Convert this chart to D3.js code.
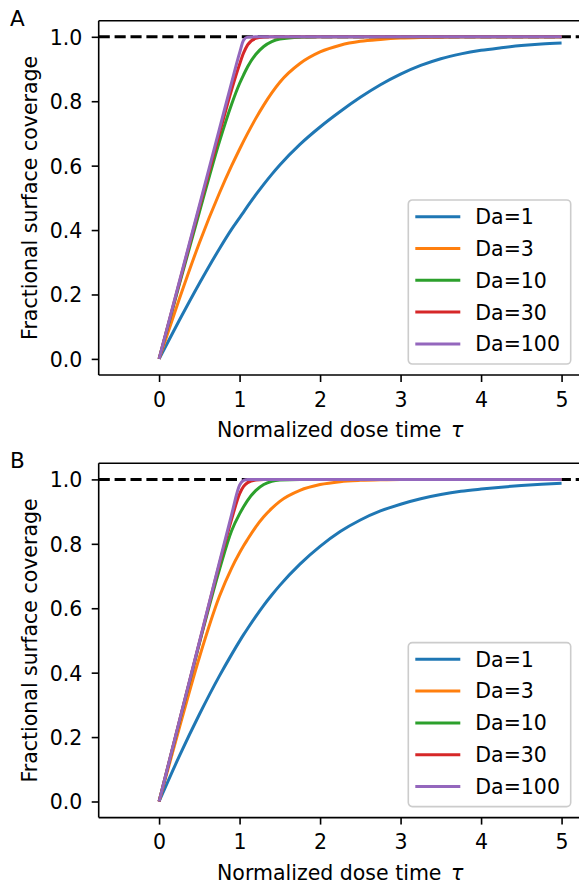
<!DOCTYPE html>
<html>
<head>
<meta charset="utf-8">
<script src="https://cdn.jsdelivr.net/npm/d3@7"></script>
<style>
  body { margin: 0; background: #fff; }
  text { font-family: "DejaVu Sans", sans-serif; fill: #000; }
</style>
</head>
<body>
<svg id="chart" width="579" height="884"></svg>
<script>
// dose time grid shared by all curves
const tau = [0, 0.25, 0.5, 0.75, 0.9, 1.0, 1.05, 1.1, 1.2, 1.3, 1.4, 1.5, 1.75, 2.0,
  2.25, 2.5, 2.75, 3.0, 3.25, 3.5, 3.75, 4.0, 4.25, 4.5, 4.75, 5.0];

const daLabels = ["Da=1", "Da=3", "Da=10", "Da=30", "Da=100"];
const colors = ["#1f77b4", "#ff7f0e", "#2ca02c", "#d62728", "#9467bd"];

// panel A
const a_da1 = [0, 0.119, 0.234, 0.342, 0.402, 0.438, 0.456, 0.474, 0.509, 0.542, 0.573, 0.602, 0.666, 0.72,
  0.768, 0.812, 0.851, 0.884, 0.911, 0.932, 0.947, 0.958, 0.966, 0.973, 0.978, 0.981];
const a_da3 = [0, 0.185, 0.36, 0.515, 0.599, 0.651, 0.676, 0.70, 0.746, 0.788, 0.826, 0.859, 0.917, 0.953,
  0.974, 0.986, 0.992, 0.996, 0.998, 0.999, 1, 1, 1, 1, 1, 1];
const a_da10 = [0, 0.23, 0.455, 0.675, 0.79, 0.855, 0.882, 0.907, 0.945, 0.97, 0.985, 0.993, 0.999, 1,
  1, 1, 1, 1, 1, 1, 1, 1, 1, 1, 1, 1];
const a_da30 = [0, 0.235, 0.47, 0.70, 0.835, 0.915, 0.95, 0.975, 0.995, 0.999, 1, 1, 1, 1,
  1, 1, 1, 1, 1, 1, 1, 1, 1, 1, 1, 1];
const a_da100 = [0, 0.238, 0.476, 0.714, 0.857, 0.95, 0.99, 0.999, 1, 1, 1, 1, 1, 1,
  1, 1, 1, 1, 1, 1, 1, 1, 1, 1, 1, 1];

// panel B
const b_da1 = [0, 0.14, 0.27, 0.39, 0.456, 0.498, 0.518, 0.537, 0.574, 0.609, 0.641, 0.671, 0.737, 0.792,
  0.838, 0.874, 0.902, 0.923, 0.94, 0.953, 0.963, 0.97, 0.976, 0.981, 0.985, 0.988];
const b_da3 = [0, 0.227, 0.447, 0.637, 0.724, 0.772, 0.794, 0.814, 0.852, 0.884, 0.91, 0.932, 0.966, 0.984,
  0.993, 0.997, 0.999, 1, 1, 1, 1, 1, 1, 1, 1, 1];
const b_da10 = [0, 0.245, 0.49, 0.72, 0.84, 0.893, 0.915, 0.935, 0.965, 0.984, 0.994, 0.998, 1, 1,
  1, 1, 1, 1, 1, 1, 1, 1, 1, 1, 1, 1];
const b_da30 = [0, 0.247, 0.493, 0.738, 0.875, 0.955, 0.978, 0.99, 0.998, 1, 1, 1, 1, 1,
  1, 1, 1, 1, 1, 1, 1, 1, 1, 1, 1, 1];
const b_da100 = [0, 0.248, 0.495, 0.743, 0.89, 0.982, 0.997, 1, 1, 1, 1, 1, 1, 1,
  1, 1, 1, 1, 1, 1, 1, 1, 1, 1, 1, 1];

const xTicks = [0, 1, 2, 3, 4, 5];
const yTicks = [0, 0.2, 0.4, 0.6, 0.8, 1.0];

const svg = d3.select("#chart");
svg.append("rect").attr("width", 579).attr("height", 884).attr("fill", "#fff");

const fs = 20.5;
const left = 98.7, right = 581.7, plotH = 354.3;
const x = d3.scaleLinear().domain([-0.75, 5.25]).range([left, right]);

function drawPanel(top, series, label) {
  const y = d3.scaleLinear().domain([-0.05, 1.05]).range([top + plotH, top]);
  const g = svg.append("g");

  // reference line at full coverage
  g.append("line")
    .attr("x1", x(-0.75)).attr("x2", x(5.25))
    .attr("y1", y(1)).attr("y2", y(1))
    .attr("stroke", "#000").attr("stroke-width", 3)
    .attr("stroke-dasharray", "11.1,4.8");

  const line = d3.line()
    .x((d, i) => x(tau[i]))
    .y(d => y(d))
    .curve(d3.curveMonotoneX);

  g.selectAll("path.curve")
    .data(series)
    .join("path")
    .attr("class", "curve")
    .attr("d", d => line(d))
    .attr("fill", "none")
    .attr("stroke", (d, i) => colors[i])
    .attr("stroke-width", 3)
    .attr("stroke-linejoin", "round");

  // spines
  g.append("line").attr("x1", left).attr("x2", right).attr("y1", top).attr("y2", top)
    .attr("stroke", "#000").attr("stroke-width", 1.6);

  const xa = g.append("g").attr("transform", `translate(0,${top + plotH})`)
    .call(d3.axisBottom(x).tickValues(xTicks).tickFormat(d3.format("d")).tickSize(7).tickPadding(10.2));
  const ya = g.append("g").attr("transform", `translate(${left},0)`)
    .call(d3.axisLeft(y).tickValues(yTicks).tickFormat(d3.format(".1f")).tickSize(7).tickPadding(9.3));
  [xa, ya].forEach(a => {
    a.select(".domain").attr("stroke-width", 1.6).attr("d",
      a === xa ? `M${left},0H${right}` : `M0,${top}V${top + plotH}`);
    a.selectAll(".tick line").attr("stroke-width", 1.6);
    a.selectAll(".tick text").attr("font-size", fs).attr("font-family", "DejaVu Sans");
  });
  ya.selectAll(".tick text").attr("dy", "0.36em");

  g.append("text")
    .attr("x", (left + right) / 2).attr("y", top + plotH + 62.3)
    .attr("text-anchor", "middle").attr("font-size", fs)
    .html('Normalized dose time <tspan font-style="italic" dx="3">τ</tspan>');

  g.append("text")
    .attr("transform", `translate(36.5,${top + plotH / 2}) rotate(-90)`)
    .attr("text-anchor", "middle").attr("font-size", fs)
    .text("Fractional surface coverage");

  g.append("text")
    .attr("x", 10).attr("y", top + 5)
    .attr("font-size", 21.5)
    .text(label);

  // legend
  const lg = g.append("g").attr("transform", `translate(408.3,${top + 179.3})`);
  lg.append("rect")
    .attr("width", 162.4).attr("height", 164)
    .attr("rx", 4)
    .attr("fill", "#fff").attr("fill-opacity", 0.8)
    .attr("stroke", "#cccccc").attr("stroke-width", 1.6);
  daLabels.forEach((t, i) => {
    const yy = 16.7 + i * 31.8;
    lg.append("line").attr("x1", 7).attr("x2", 52).attr("y1", yy).attr("y2", yy)
      .attr("stroke", colors[i]).attr("stroke-width", 3);
    lg.append("text").attr("x", 67).attr("y", yy + 7.4).attr("font-size", fs).text(t);
  });
}

drawPanel(20.7, [a_da1, a_da3, a_da10, a_da30, a_da100], "A");
drawPanel(463.3, [b_da1, b_da3, b_da10, b_da30, b_da100], "B");
</script>
</body>
</html>
